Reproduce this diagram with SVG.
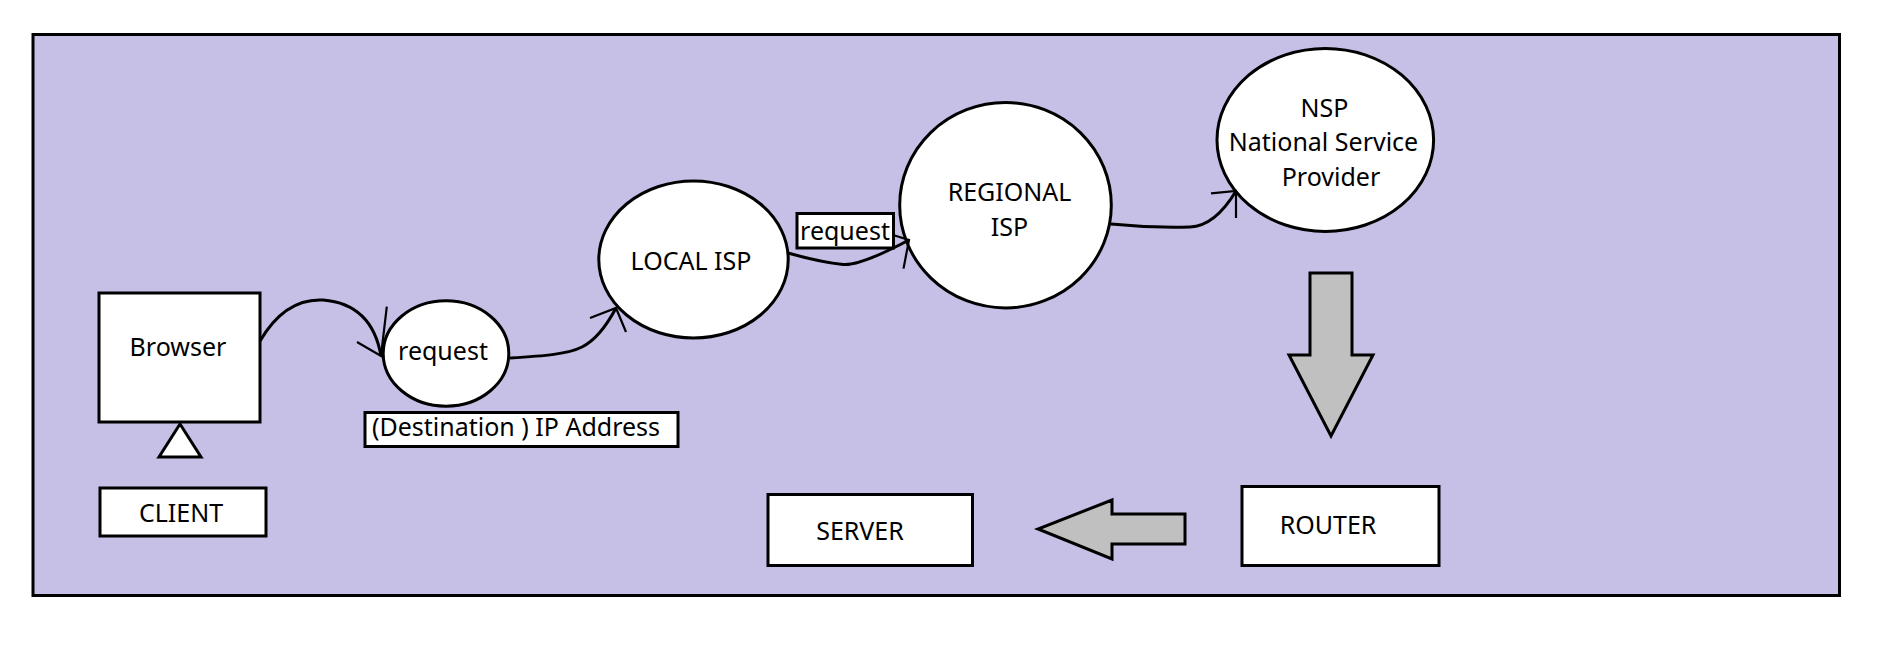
<svg xmlns="http://www.w3.org/2000/svg" width="1879" height="648" viewBox="0 0 1879 648">
<style>
.shape{fill:#ffffff;stroke:#000000;stroke-width:3}
.big{fill:#c0c0c0;stroke:#000000;stroke-width:3;stroke-linejoin:miter}
.t{font-family:"Noto Sans","Open Sans","Liberation Sans",sans-serif;font-size:25px;fill:#000000;text-anchor:middle}
.c{fill:none;stroke:#000000;stroke-width:3}
.h{fill:none;stroke:#000000;stroke-width:2.2}
</style>
<rect x="0" y="0" width="1879" height="648" fill="#ffffff"/>
<rect id="frame" x="33" y="34.5" width="1806.5" height="561" fill="#c6bfe6" stroke="#000000" stroke-width="3"/>
<g id="browser">
<rect class="shape" x="99" y="293" width="161" height="129"/>
<text class="t" x="178" y="356">Browser</text>
</g>
<g id="triangle">
<polygon class="shape" points="180,424 201,457 159,457" stroke-width="2.5"/>
</g>
<g id="client">
<rect class="shape" x="100" y="488" width="166" height="48"/>
<text class="t" x="181" y="522">CLIENT</text>
</g>
<g id="request1">
<ellipse class="shape" cx="446" cy="353.5" rx="62.8" ry="52.7"/>
<text class="t" x="443" y="360">request</text>
</g>
<g id="destination">
<rect class="shape" x="365" y="412.5" width="313" height="34" stroke-width="2.5"/>
<text class="t" x="516" y="436">(Destination ) IP Address</text>
</g>
<g id="local-isp">
<ellipse class="shape" cx="693.5" cy="259.5" rx="94.7" ry="78.5"/>
<text class="t" x="691" y="270">LOCAL ISP</text>
</g>
<g id="request2">
<rect class="shape" x="797" y="213.5" width="96.5" height="34.5" stroke-width="2.5"/>
<text class="t" x="845" y="239.5">request</text>
</g>
<g id="regional-isp">
<ellipse class="shape" cx="1005.5" cy="205.2" rx="105.8" ry="102.7"/>
<text class="t" x="1009.5" y="201">REGIONAL</text>
<text class="t" x="1009.5" y="235.5">ISP</text>
</g>
<g id="nsp">
<ellipse class="shape" cx="1325.3" cy="139.9" rx="108.3" ry="91.5"/>
<text class="t" x="1324.5" y="116.5">NSP</text>
<text class="t" x="1323.5" y="151">National Service</text>
<text class="t" x="1331" y="186">Provider</text>
</g>
<g id="router">
<rect class="shape" x="1242" y="486.5" width="197" height="79"/>
<text class="t" x="1328" y="534">ROUTER</text>
</g>
<g id="server">
<rect class="shape" x="768" y="494.5" width="204.5" height="71"/>
<text class="t" x="860" y="539.5">SERVER</text>
</g>
<g id="connectors">
<path class="c" d="M260,341 Q285,298 323,300 Q372,304 381,356"/>
<path class="h" d="M386.8,306.6 L381,356 L357,342"/>
<path class="c" d="M510,358 C545,356 568,354 582,347 Q600,338 616,308"/>
<path class="h" d="M590,318 L616,308 L626,332"/>
<path class="c" d="M788,253 Q820,262 843,264.5 Q860,266 909,240"/>
<path class="h" d="M893,235 L909,240 L903.5,268.6"/>
<path class="c" d="M1111,224 Q1150,228 1190,227 Q1215,226 1236,191"/>
<path class="h" d="M1211,193.4 L1236,191 L1236,218"/>
<polygon class="big" points="1310,273 1352,273 1352,355 1373,355 1331,436 1289,355 1310,355"/>
<polygon class="big" points="1185,514 1112,514 1112,500 1038,529 1112,559 1112,544 1185,544"/>
</g>
</svg>
